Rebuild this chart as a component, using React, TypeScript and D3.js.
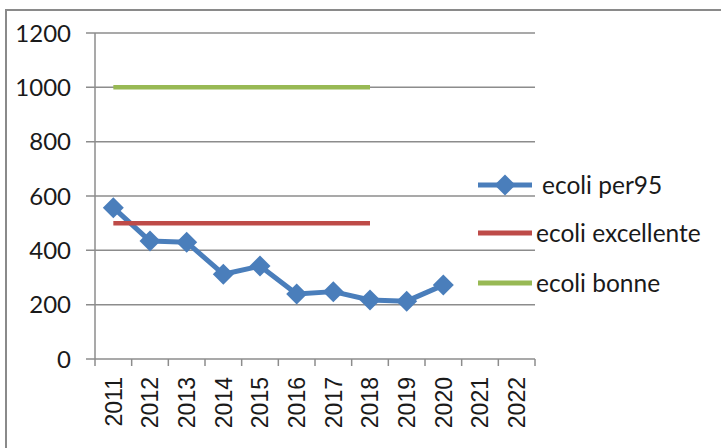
import React from "react";
import * as d3 from "d3";

const years = ["2011","2012","2013","2014","2015","2016","2017","2018","2019","2020","2021","2022"];
const per95 = [557, 434, 430, 312, 342, 239, 248, 217, 213, 272];
const excellente = [500, 500, 500, 500, 500, 500, 500, 500];
const bonne = [1000, 1000, 1000, 1000, 1000, 1000, 1000, 1000];
const yTicks = [0, 200, 400, 600, 800, 1000, 1200];
const legendItems = [
  { name: "ecoli per95", color: "#4A7EBB", marker: true },
  { name: "ecoli excellente", color: "#BE4B48", marker: false },
  { name: "ecoli bonne", color: "#98B954", marker: false },
];

export default function App() {
  const W = 721, H = 448;
  const left = 95, right = 535, top = 33, bottom = 359;
  const x = d3.scaleBand<string>().domain(years).range([left, right]);
  const y = d3.scaleLinear().domain([0, 1200]).range([bottom, top]);
  const cx = (i: number) => (x(years[i]) as number) + x.bandwidth() / 2;
  const line = d3.line<number>().x((_, i) => cx(i)).y(d => y(d));
  const diamond = (px: number, py: number, r: number) =>
    `M${px},${py - r}L${px + r},${py}L${px},${py + r}L${px - r},${py}Z`;
  const legendY = [185, 233, 283];
  const legendTextX = [542, 536, 536];

  return (
    <svg width={W} height={H} style={{ position: "absolute", left: 0, top: 0, background: "#fff" }}>
      <rect x={6} y={10} width={W} height={H} fill="none" stroke="#8a8a8a" strokeWidth={2} />
      {yTicks.map(t => (
        <g key={t}>
          <line x1={86} x2={right} y1={y(t)} y2={y(t)} stroke="#8c8c8c" strokeWidth={1.5} />
          <text x={71} y={y(t)} dy="0.36em" textAnchor="end" fontFamily="Lato, sans-serif" fontSize={24} fill="#1a1a1a">{t}</text>
        </g>
      ))}
      <line x1={left} x2={left} y1={top} y2={bottom} stroke="#8c8c8c" strokeWidth={1.5} />
      {years.map((yr, i) => (
        <g key={yr}>
          <line x1={(x(yr) as number)} x2={(x(yr) as number)} y1={bottom} y2={bottom + 7} stroke="#8c8c8c" strokeWidth={1.5} />
          <text transform={`translate(${cx(i)},${bottom + 18}) rotate(-90)`} dy="0.36em" textAnchor="end" fontFamily="'Liberation Sans', Arial, sans-serif" fontSize={23} fill="#1a1a1a">{yr}</text>
        </g>
      ))}
      <line x1={right} x2={right} y1={bottom} y2={bottom + 7} stroke="#8c8c8c" strokeWidth={1.5} />
      <path d={line(per95) as string} fill="none" stroke="#4A7EBB" strokeWidth={5} strokeLinejoin="round" />
      {per95.map((v, i) => (
        <path key={i} d={diamond(cx(i), y(v), 10.5)} fill="#4A7EBB" />
      ))}
      <path d={line(excellente) as string} fill="none" stroke="#BE4B48" strokeWidth={4.5} />
      <path d={line(bonne) as string} fill="none" stroke="#98B954" strokeWidth={4.5} />
      {legendItems.map((it, i) => (
        <g key={it.name}>
          <line x1={478} x2={532} y1={legendY[i]} y2={legendY[i]} stroke={it.color} strokeWidth={5} />
          {it.marker && <path d={diamond(505, legendY[i], 10.5)} fill={it.color} />}
          <text x={legendTextX[i]} y={legendY[i]} dy="0.36em" fontFamily="Lato, sans-serif" fontSize={24.5} fill="#1a1a1a">{it.name}</text>
        </g>
      ))}
    </svg>
  );
}
